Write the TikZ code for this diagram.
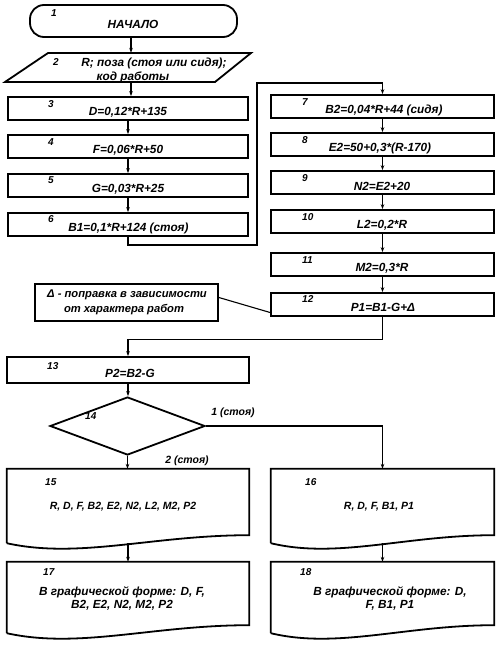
\documentclass[tikz,border=0pt]{standalone}
\usepackage{fontspec}
\setmainfont{Liberation Sans}
\usetikzlibrary{shapes.geometric,arrows.meta}
\begin{document}
\begin{tikzpicture}[x=1pt,y=-1pt,
  every node/.style={font=\fontsize{11.8}{13.5}\selectfont\bfseries\itshape},
  box/.style={draw, line width=1.8pt, inner sep=0pt},
  num/.style={font=\fontsize{10}{12}\selectfont\bfseries\itshape, inner sep=0pt, anchor=west},
  txt/.style={inner sep=0pt, align=center},
  small/.style={font=\fontsize{10.5}{12.5}\selectfont\bfseries\itshape},
  lbox/.style={box, minimum width=240pt, minimum height=23pt},
  rbox/.style={box, minimum width=223pt, minimum height=23pt},
  hid/.style={inner sep=0pt, draw=none},
  conn/.style={line width=1.1pt},
  arr/.style={conn, -{Stealth[length=5pt,width=3.6pt]}},
]
\fill[white] (0,0) rectangle (500,646);
\useasboundingbox (0,0) rectangle (500,646);

% 1 terminator
\node[box, rounded corners=14pt, minimum width=207pt, minimum height=32pt] (n1) at (133.5,21) {};
\node[num] (l1) at (51,13) {1};
\node[txt] (t1) at (133,24) {НАЧАЛО};

% 2 parallelogram
\node[hid, minimum width=160pt, minimum height=29pt] (n2) at (131,67.5) {};
\coordinate (p2tl) at (48,53);
\coordinate (p2tr) at (251,53);
\coordinate (p2br) at (215,82);
\coordinate (p2bl) at (5,82);
\draw[box, line join=miter] (p2tl) -- (p2tr) -- (p2br) -- (p2bl) -- cycle;
\node[num] (l2) at (53,62) {2};
\node[txt] (t2a) at (154,63) {R; поза (стоя или сидя);};
\node[txt] (t2b) at (133,77) {код работы};

% left column
\node[lbox] (b3) at (128,108.5) {};
\node[num] (l3) at (48,104) {3};
\node[txt] (t3) at (128,112.5) {D=0,12*R+135};

\node[lbox] (b4) at (128,146.5) {};
\node[num] (l4) at (48,142) {4};
\node[txt] (t4) at (128,150.5) {F=0,06*R+50};

\node[lbox] (b5) at (128,185.5) {};
\node[num] (l5) at (48,180) {5};
\node[txt] (t5) at (128,189) {G=0,03*R+25};

\node[lbox] (b6) at (128,224.5) {};
\node[num] (l6) at (48,219) {6};
\node[txt] (t6) at (128.5,228.5) {B1=0,1*R+124 (стоя)};

% right column
\node[rbox] (b7) at (382.5,106.5) {};
\node[num] (l7) at (302,102) {7};
\node[txt] (t7) at (384,110) {B2=0,04*R+44 (сидя)};

\node[rbox] (b8) at (382.5,144.5) {};
\node[num] (l8) at (302,140) {8};
\node[txt] (t8) at (380,148) {E2=50+0,3*(R-170)};

\node[rbox] (b9) at (382.5,182.5) {};
\node[num] (l9) at (302,178) {9};
\node[txt] (t9) at (382,186.5) {N2=E2+20};

\node[rbox] (b10) at (382.5,221.5) {};
\node[num] (l10) at (302,217) {10};
\node[txt] (t10) at (382,225) {L2=0,2*R};

\node[rbox] (b11) at (382.5,264.5) {};
\node[num] (l11) at (302,260) {11};
\node[txt] (t11) at (382,268) {M2=0,3*R};

\node[rbox] (b12) at (382.5,304.5) {};
\node[num] (l12) at (302,299) {12};
\node[txt] (t12) at (383,307) {P1=B1-G+Δ};

% comment
\node[box, minimum width=183pt, minimum height=37pt] (c) at (126.5,302.5) {};
\node[txt, font=\fontsize{11.2}{13}\selectfont\bfseries\itshape] (tc1) at (127,295) {Δ - поправка в зависимости};
\node[txt, font=\fontsize{11.2}{13}\selectfont\bfseries\itshape] (tc2) at (124,310) {от характера работ};

% 13
\node[box, minimum width=242pt, minimum height=26pt] (b13) at (128,370) {};
\node[num] (l13) at (47,366) {13};
\node[txt] (t13) at (130,373) {P2=B2-G};

% 14 decision
\node[box, diamond, minimum width=155pt, minimum height=58pt] (d14) at (127.5,426) {};
\node[num] (l14) at (85,416) {14};
\node[txt, small] (y1) at (233,413) {1 (стоя)};
\node[txt, small] (y2) at (187,461) {2 (стоя)};

% documents
\node[hid, minimum width=242pt, minimum height=74pt] (b15) at (128,506) {};
\node[hid, minimum width=223pt, minimum height=74pt] (b16) at (382.5,506) {};
\node[hid, minimum width=242pt, minimum height=71pt] (b17) at (128,597.5) {};
\node[hid, minimum width=223pt, minimum height=71pt] (b18) at (382.5,597.5) {};

\foreach \d/\w/\a/\b in {b15/242/96.8/72.6, b17/242/96.8/72.6, b16/223/89.2/66.9, b18/223/89.2/66.9}{
  \draw[box, line join=miter] (\d.south west) -- (\d.north west) -- (\d.north east) -- ([yshift=8pt]\d.south east)
    .. controls ([xshift=-\a pt, yshift=8pt]\d.south east) and ([xshift=\b pt, yshift=-16pt]\d.south west) .. (\d.south west);
}

\node[num] (l15) at (45,482) {15};
\node[txt, small] (t15) at (123,507) {R, D, F, B2, E2, N2, L2, M2, P2};
\node[num] (l16) at (305,482) {16};
\node[txt, small] (t16) at (379,507) {R, D, F, B1, P1};
\node[num] (l17) at (43,572) {17};
\node[txt] (t17) at (122,598.5) {В графической форме: D, F,\\B2, E2, N2, M2, P2};
\node[num] (l18) at (300,572) {18};
\node[txt] (t18) at (390,598.5) {В графической форме: D,\\F, B1, P1};

% connectors
\draw[arr] (n2.north |- n1.south) -- (n2.north);
\draw[arr] (n2.south) -- (n2.south |- b3.north);
\draw[arr] (b3.south) -- (b4.north);
\draw[arr] (b4.south) -- (b5.north);
\draw[arr] (b5.south) -- (b6.north);
\coordinate (k1) at (257,245);
\coordinate (k2) at (257,83);
\draw[arr] (b6.south) |- (k1) -- (k2) -| (b7.north);
\draw[arr] (b7.south) -- (b8.north);
\draw[arr] (b8.south) -- (b9.north);
\draw[arr] (b9.south) -- (b10.north);
\draw[arr] (b10.south) -- (b11.north);
\draw[arr] (b11.south) -- (b12.north);
\draw[conn] ([yshift=5pt]c.east) -- ([yshift=-8pt]b12.west);
\draw[arr] (b12.south) -- ++(0,23) -| (b13.north);
\draw[arr] (b13.south) -- (b13.south |- d14.north);
\draw[arr] (d14.south) -- (d14.south |- b15.north);
\draw[arr] (d14.east) -| (b16.north);
\draw[arr] (b15.south) -- (b17.north);
\draw[arr] (b16.south) -- (b18.north);
\end{tikzpicture}
\end{document}
